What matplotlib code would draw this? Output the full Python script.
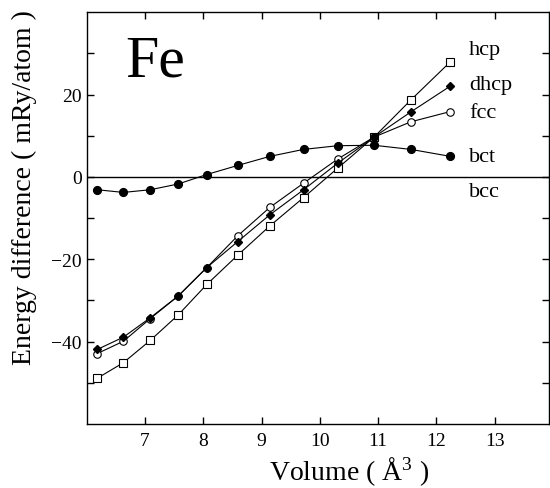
import numpy as np
import matplotlib.pyplot as plt
from matplotlib.ticker import FixedLocator

plt.rcParams['font.family'] = ['Liberation Serif', 'DejaVu Serif']
plt.rcParams['mathtext.fontset'] = 'custom'
plt.rcParams['mathtext.rm'] = 'Liberation Serif'
plt.rcParams['mathtext.it'] = 'Liberation Serif:italic'

# Volumes (A^3) of the calculated points
volume = [6.18, 6.63, 7.09, 7.57, 8.06, 8.59, 9.14, 9.72, 10.31, 10.93, 11.56, 12.24]

# Energies relative to bcc (mRy/atom)
e_hcp = [-48.9, -45.1, -39.7, -33.5, -26.1, -19.0, -11.9, -5.0, 2.2, 9.7, 18.7, 28.0]
e_dhcp = [-41.9, -38.9, -34.2, -28.9, -22.0, -15.7, -9.2, -3.1, 3.4, 9.7, 15.8, 22.1]
e_fcc = [-42.9, -39.9, -34.4, -28.9, -22.0, -14.3, -7.4, -1.5, 4.4, 9.7, 13.4, 15.9]
e_bct = [-3.1, -3.75, -3.1, -1.7, 0.6, 2.8, 5.0, 6.7, 7.6, 7.7, 6.7, 5.0]

fig = plt.figure(figsize=(5.5, 4.89), dpi=100)
ax = fig.add_axes([86.7 / 550, 1 - 425 / 489, (549 - 86.7) / 550, (425 - 13.3) / 489])

lw = 0.8
ax.axhline(0, color='black', lw=1.0)
ax.plot(volume, e_hcp, '-s', color='black', lw=lw, ms=5.2, mfc='white', mec='black', mew=0.8)
ax.plot(volume, e_fcc, '-o', color='black', lw=lw, ms=5.4, mfc='white', mec='black', mew=0.8)
ax.plot(volume, e_dhcp, '-D', color='black', lw=lw, ms=3.6, mfc='black', mec='black')
ax.plot(volume, e_bct, '-o', color='black', lw=lw, ms=5.6, mfc='black', mec='black')

ax.set_xlim(6, 13.93)
ax.set_ylim(-60, 40)
ax.set_xticks(range(7, 14))
ax.set_yticks([-40, -20, 0, 20])
ax.yaxis.set_minor_locator(FixedLocator([-50, -30, -10, 10, 30]))
ax.tick_params(which='both', direction='in', top=True, right=True, length=5, width=1, labelsize=14)
ax.tick_params(axis='x', pad=6)
for s in ax.spines.values():
    s.set_linewidth(1.0)

# structure names next to the curves
for name, y in [('hcp', 31.0), ('dhcp', 22.5), ('fcc', 15.7), ('bct', 5.0), ('bcc', -3.6)]:
    ax.text(12.56, y, name, fontsize=16, ha='left', va='center')

ax.text(6.66, 24.7, 'Fe', fontsize=43, ha='left', va='baseline')

fig.text(349.5 / 550, 9 / 489, 'Volume ( Å$^3$ )', fontsize=20, ha='center', va='baseline')
fig.text(24 / 550, 1 - 188 / 489, 'Energy difference ( mRy/atom )', fontsize=20,
         rotation=90, ha='center', va='center')

fig.savefig('out.png', dpi=100)
